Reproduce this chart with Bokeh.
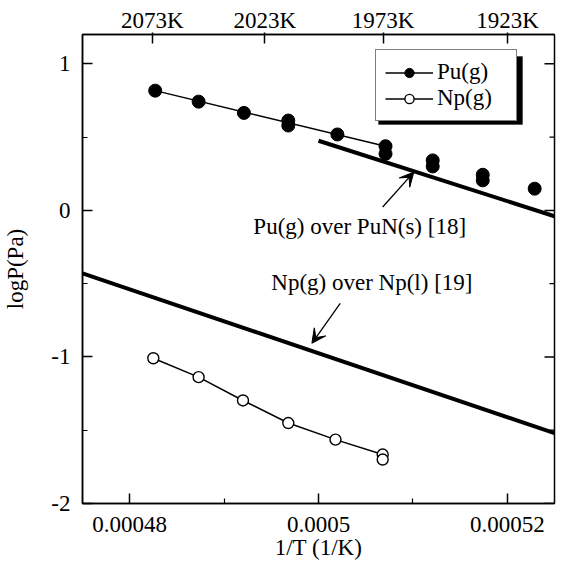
from bokeh.plotting import figure
from bokeh.models import (LinearAxis, FixedTicker, Range1d, Legend, LegendItem,
                          Arrow, VeeHead, Label, BoxAnnotation)
from bokeh.embed import file_html
from bokeh.resources import INLINE

FONT = "Liberation Serif"
FS = "23px"

# Pu(g) measured points (1/T, logP)
pu_x = [0.0004827, 0.0004873, 0.0004921, 0.0004968, 0.0004968, 0.0005020,
        0.0005071, 0.0005071, 0.0005121, 0.0005121, 0.0005174, 0.0005174, 0.0005229]
pu_y = [0.817, 0.742, 0.665, 0.613, 0.579, 0.518,
        0.438, 0.386, 0.341, 0.300, 0.243, 0.205, 0.148]
# Pu(g) fitted line
pu_fit_x = [0.0004827, 0.0005071]
pu_fit_y = [0.817, 0.438]

# Np(g) measured points
np_x = [0.0004825, 0.0004873, 0.0004920, 0.0004968, 0.0005018, 0.0005068, 0.0005068]
np_y = [-1.009, -1.138, -1.297, -1.451, -1.564, -1.666, -1.700]

# literature lines
pun_x = [0.0005, 0.000525]
pun_y = [0.475, -0.04]
npl_x = [0.000475, 0.000525]
npl_y = [-0.43, -1.52]

# annotations
pun_text = "Pu(g) over PuN(s) [18]"
pun_text_xy = (0.0004931, -0.113)
pun_arrow = (0.0005068, 0.023, 0.0005101, 0.261)
npl_text = "Np(g) over Np(l) [19]"
npl_text_xy = (0.0004950, -0.49)
npl_arrow = (0.0005023, -0.635, 0.0004993, -0.907)

# axes
x_lo, x_hi = 0.000475, 0.000525
y_lo, y_hi = -2, 1.2
x_title = "1/T (1/K)"
y_title = "logP(Pa)"
x_ticks = [0.00048, 0.0005, 0.00052]
x_tick_labels = ["0.00048", "0.0005", "0.00052"]
x_minor = [0.00049, 0.00051]
y_ticks = [-2, -1, 0, 1]
y_tick_labels = ["-2", "-1", "0", "1"]
y_minor = [-1.5, -0.5, 0.5]
top_T = [2073, 2023, 1973, 1923]
top_labels = ["2073K", "2023K", "1973K", "1923K"]

p = figure(width=556, height=562, x_range=Range1d(x_lo, x_hi),
           y_range=Range1d(y_lo, y_hi), output_backend="svg", toolbar_location=None,
           min_border_left=80, min_border_right=2, min_border_top=34,
           min_border_bottom=58, x_axis_type=None, y_axis_type=None)
p.grid.visible = False
p.outline_line_color = "black"
p.outline_line_width = 1.5
p.background_fill_color = "white"


def style(ax):
    ax.axis_line_width = 1.5
    ax.axis_line_color = "black"
    ax.major_tick_in = 10
    ax.major_tick_out = 0
    ax.minor_tick_in = 5
    ax.minor_tick_out = 0
    ax.major_tick_line_width = 1.5
    ax.minor_tick_line_width = 1.2
    ax.major_label_text_font = FONT
    ax.major_label_text_font_size = FS
    ax.major_label_text_color = "black"
    ax.axis_label_text_font = FONT
    ax.axis_label_text_font_size = FS
    ax.axis_label_text_font_style = "normal"
    ax.axis_label_text_color = "black"


bottom = LinearAxis(ticker=FixedTicker(ticks=x_ticks, minor_ticks=x_minor),
                    major_label_overrides=dict(zip(x_ticks, x_tick_labels)),
                    axis_label=x_title)
style(bottom)
bottom.major_label_standoff = 13
bottom.axis_label_standoff = 0
p.add_layout(bottom, "below")

left = LinearAxis(ticker=FixedTicker(ticks=y_ticks, minor_ticks=y_minor),
                  major_label_overrides=dict(zip(y_ticks, y_tick_labels)),
                  axis_label=y_title)
style(left)
left.major_label_standoff = 12
left.axis_label_standoff = 20
p.add_layout(left, "left")

top_pos = [1.0 / t for t in top_T]
top = LinearAxis(ticker=FixedTicker(ticks=top_pos, minor_ticks=[]),
                 major_label_overrides=dict(zip(top_pos, top_labels)))
style(top)
top.major_tick_in = 9
top.major_tick_out = 2
top.major_label_standoff = 0
p.add_layout(top, "above")

# right-hand inward ticks (no labels)
p.scatter([x_hi] * len(y_ticks), y_ticks, marker="dash", size=20,
          line_color="black", line_width=1.5)
p.scatter([x_hi] * len(y_minor), y_minor, marker="dash", size=10,
          line_color="black", line_width=1.2)

# literature lines
p.line(pun_x, pun_y, line_color="black", line_width=4)
p.line(npl_x, npl_y, line_color="black", line_width=4)

# data
pu_line = p.line(pu_fit_x, pu_fit_y, line_color="black", line_width=1.5)
pu_pts = p.scatter(pu_x, pu_y, marker="circle", size=13, fill_color="black",
                   line_color="black")
np_line = p.line(np_x, np_y, line_color="black", line_width=1.5)
np_pts = p.scatter(np_x, np_y, marker="circle", size=11, fill_color="white",
                   line_color="black", line_width=1.4)

# annotations
p.add_layout(Label(x=pun_text_xy[0], y=pun_text_xy[1], text=pun_text, text_font=FONT,
                   text_font_size=FS, text_baseline="middle", text_color="black"))
p.add_layout(Label(x=npl_text_xy[0], y=npl_text_xy[1], text=npl_text, text_font=FONT,
                   text_font_size=FS, text_baseline="middle", text_color="black"))
for (xs, ys, xe, ye) in (pun_arrow, npl_arrow):
    p.add_layout(Arrow(end=VeeHead(size=14, fill_color="black", line_color="black",
                                   line_width=1),
                       x_start=xs, y_start=ys, x_end=xe, y_end=ye,
                       line_color="black", line_width=1.3))

# legend with drop shadow
leg_x, leg_y, leg_w, leg_h = 293, 382, 144, 68
p.add_layout(BoxAnnotation(left=leg_x + 3, right=leg_x + leg_w + 3,
                           bottom=leg_y - 3, top=leg_y + leg_h - 3,
                           left_units="screen", right_units="screen",
                           bottom_units="screen", top_units="screen",
                           fill_color="black", fill_alpha=1, line_color="black"))

lg = Legend(items=[LegendItem(label="Pu(g)", renderers=[pu_line, pu_pts]),
                   LegendItem(label="Np(g)", renderers=[np_line, np_pts])],
            location=(leg_x, leg_y), orientation="vertical")
lg.label_text_font = FONT
lg.label_text_font_size = FS
lg.label_text_color = "black"
lg.glyph_width = 48
lg.glyph_height = 23
lg.label_height = 23
lg.label_width = 70
lg.label_standoff = 4
lg.spacing = 0
lg.padding = 9
lg.margin = 0
lg.border_line_color = "black"
lg.border_line_width = 1.5
lg.background_fill_color = "white"
lg.background_fill_alpha = 1
p.add_layout(lg, "center")

open("out.html", "w").write(file_html(p, INLINE))
